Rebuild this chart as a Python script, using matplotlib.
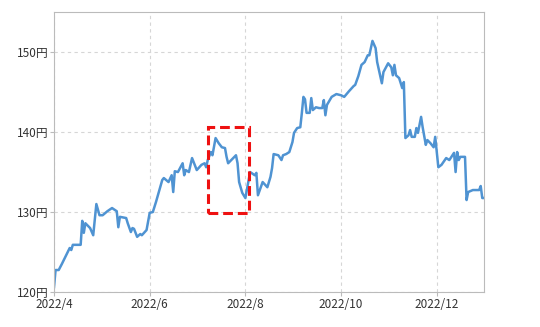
import matplotlib
matplotlib.use('Agg')
import matplotlib.pyplot as plt
import matplotlib.dates as mdates
import pandas as pd
from matplotlib.patches import Rectangle

plt.rcParams['font.family'] = ['Noto Sans CJK JP', 'DejaVu Sans']

# USD/JPY close (yen)
dates = [
    '2022-04-01', '2022-04-02', '2022-04-04', '2022-04-06', '2022-04-11', '2022-04-12',
    '2022-04-13', '2022-04-18', '2022-04-19', '2022-04-20', '2022-04-21', '2022-04-24',
    '2022-04-26', '2022-04-28', '2022-04-30', '2022-05-02', '2022-05-05', '2022-05-08',
    '2022-05-11', '2022-05-12', '2022-05-13', '2022-05-17', '2022-05-18', '2022-05-20',
    '2022-05-21', '2022-05-22', '2022-05-24', '2022-05-26', '2022-05-27', '2022-05-30',
    '2022-06-01', '2022-06-03', '2022-06-05', '2022-06-09', '2022-06-10', '2022-06-13',
    '2022-06-15', '2022-06-16', '2022-06-17', '2022-06-19', '2022-06-22', '2022-06-23',
    '2022-06-24', '2022-06-26', '2022-06-28', '2022-07-01', '2022-07-04', '2022-07-06',
    '2022-07-07', '2022-07-08', '2022-07-10', '2022-07-11', '2022-07-13', '2022-07-15',
    '2022-07-17', '2022-07-19', '2022-07-20', '2022-07-21', '2022-07-23', '2022-07-26',
    '2022-07-27', '2022-07-28', '2022-07-30', '2022-08-01', '2022-08-04', '2022-08-07',
    '2022-08-08', '2022-08-09', '2022-08-12', '2022-08-15', '2022-08-17', '2022-08-18',
    '2022-08-19', '2022-08-22', '2022-08-24', '2022-08-25', '2022-08-27', '2022-08-29',
    '2022-08-31', '2022-09-01', '2022-09-03', '2022-09-05', '2022-09-06', '2022-09-07',
    '2022-09-08', '2022-09-09', '2022-09-11', '2022-09-12', '2022-09-13', '2022-09-15',
    '2022-09-17', '2022-09-19', '2022-09-20', '2022-09-21', '2022-09-22', '2022-09-25',
    '2022-09-28', '2022-10-01', '2022-10-03', '2022-10-06', '2022-10-09', '2022-10-10',
    '2022-10-12', '2022-10-14', '2022-10-16', '2022-10-18', '2022-10-19', '2022-10-21',
    '2022-10-23', '2022-10-24', '2022-10-27', '2022-10-28', '2022-10-31', '2022-11-02',
    '2022-11-03', '2022-11-04', '2022-11-05', '2022-11-07', '2022-11-09', '2022-11-10',
    '2022-11-11', '2022-11-13', '2022-11-14', '2022-11-15', '2022-11-17', '2022-11-18',
    '2022-11-19', '2022-11-21', '2022-11-22', '2022-11-24', '2022-11-25', '2022-11-27',
    '2022-11-29', '2022-11-30', '2022-12-02', '2022-12-04', '2022-12-07', '2022-12-09',
    '2022-12-12', '2022-12-13', '2022-12-14', '2022-12-15', '2022-12-16', '2022-12-19',
    '2022-12-20', '2022-12-21', '2022-12-24', '2022-12-28', '2022-12-29', '2022-12-30',
    '2022-12-31',
]
rates = [
    120.6, 122.75, 122.75, 123.5, 125.5, 125.25,
    125.9, 125.9, 128.9, 127.4, 128.6, 128.0,
    127.1, 131.0, 129.6, 129.6, 130.1, 130.5,
    130.1, 128.1, 129.4, 129.25, 128.6, 127.5,
    128.0, 127.9, 126.9, 127.25, 127.1, 127.75,
    129.9, 130.0, 131.25, 134.0, 134.25, 133.75,
    134.6, 132.5, 135.1, 135.0, 136.1, 134.6,
    135.25, 135.0, 136.75, 135.25, 135.9, 136.1,
    135.6, 136.5, 137.5, 137.1, 139.25, 138.6,
    138.1, 138.0, 136.9, 136.1, 136.5, 137.1,
    136.1, 133.75, 132.4, 131.75, 135.0, 134.6,
    134.9, 132.1, 133.75, 133.1, 134.4, 135.5,
    137.25, 137.1, 136.5, 137.1, 137.25, 137.5,
    138.75, 139.9, 140.5, 140.6, 142.4, 144.4,
    144.1, 142.4, 142.4, 144.25, 142.75, 143.1,
    143.0, 143.0, 144.0, 142.1, 143.4, 144.4,
    144.75, 144.6, 144.4, 145.1, 145.75, 145.9,
    147.0, 148.4, 148.75, 149.6, 149.6, 151.4,
    150.5, 148.75, 146.1, 147.5, 148.6, 148.1,
    147.1, 148.4, 147.1, 146.75, 145.5, 146.25,
    139.25, 139.6, 140.25, 139.4, 139.4, 140.5,
    139.9, 141.9, 140.6, 138.4, 139.0, 138.6,
    138.1, 139.4, 135.6, 135.9, 136.75, 136.5,
    137.4, 135.0, 137.5, 136.5, 136.9, 136.9,
    131.5, 132.5, 132.75, 132.75, 133.25, 131.75,
    131.75,
]

# highlighted period (red dashed box)
box_start, box_end = '2022-07-08', '2022-08-03'
box_low, box_high = 129.9, 140.6

x = pd.to_datetime(dates)

fig = plt.figure(figsize=(5.4, 3.27), dpi=100)
ax = fig.add_axes([0.1, 0.107, 0.796, 0.856])

ax.plot(x, rates, color='#4f93d2', linewidth=1.8, solid_joinstyle='round')

x0 = mdates.date2num(pd.Timestamp(box_start))
x1 = mdates.date2num(pd.Timestamp(box_end))
ax.add_patch(Rectangle((x0, box_low), x1 - x0, box_high - box_low,
                       fill=False, edgecolor='#ee1111', linewidth=2.2,
                       linestyle=(0, (3.2, 1.6)), zorder=5))

ax.set_xlim(pd.Timestamp('2022-04-01'), pd.Timestamp('2022-12-31'))
ax.set_ylim(120, 155)

yticks = [120, 130, 140, 150]
ax.set_yticks(yticks)
ax.set_yticklabels([f'{v}円' for v in yticks])

xticks = ['2022-04-01', '2022-06-01', '2022-08-01', '2022-10-01', '2022-12-01']
xtick_labels = ['2022/4', '2022/6', '2022/8', '2022/10', '2022/12']
ax.set_xticks(pd.to_datetime(xticks))
ax.set_xticklabels(xtick_labels)

ax.grid(True, color='#d6d6d6', linestyle=(0, (3, 3)), linewidth=0.8)
ax.set_axisbelow(True)
for s in ax.spines.values():
    s.set_color('#bbbbbb')
    s.set_linewidth(0.8)
ax.tick_params(axis='both', colors='#bbbbbb', labelcolor='#333333',
               labelsize=8.5, length=3, width=0.8, pad=1)

fig.savefig('out.png', dpi=100)
